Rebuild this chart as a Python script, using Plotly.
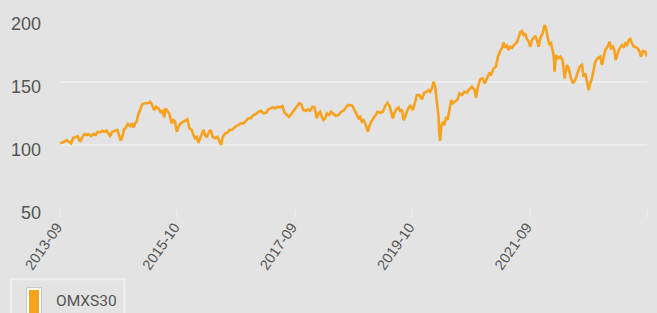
import plotly.graph_objects as go

# session index (trading-day steps) and OMXS30 index level
sessions = [
    0, 10, 20, 27, 33, 40, 47, 53, 60, 65, 73, 80, 85, 93, 100, 107, 113, 120, 127, 133,
    140, 145, 150, 157, 165, 172, 177, 182, 187, 192, 197, 203, 210, 215, 221, 225, 230, 235, 240, 247,
    255, 263, 270, 275, 282, 288, 295, 303, 307, 313,
    315, 322, 328, 335, 340, 345, 350, 355, 362, 370, 378, 382, 388, 395, 400, 405, 410, 415, 420, 425,
    430, 435, 440, 447, 452, 458, 465, 472, 478, 483, 488, 495, 502, 508, 515, 522, 528, 535, 542, 550,
    558, 565, 572, 580, 588, 595, 602, 610, 618, 625, 630,
    637, 645, 653, 660, 667, 673, 680, 687, 695, 703, 710, 717, 723, 730, 737, 743, 750, 757, 763, 767,
    770, 775, 780, 785, 790, 795, 800, 807, 813, 820, 827, 835, 843, 850, 855, 863, 870, 877, 883, 890,
    895, 900, 905, 910, 915, 920, 923, 927, 933, 940, 945,
    952, 960, 968, 975, 982, 988, 992, 998, 1002, 1008, 1015, 1020, 1025, 1030, 1035, 1042, 1050, 1058, 1065, 1070,
    1078, 1085, 1092, 1100, 1105, 1110, 1115, 1120, 1125, 1130, 1135, 1137, 1140, 1143, 1148, 1152, 1158, 1162, 1168, 1173,
    1178, 1185, 1192, 1198, 1205, 1212, 1220,
    1225, 1235, 1243, 1247, 1253, 1260, 1267, 1273, 1280, 1287, 1293, 1300, 1307, 1313, 1320, 1327, 1330, 1335, 1340, 1345,
    1350, 1355, 1363, 1370, 1375, 1380, 1385, 1390, 1395, 1400, 1405, 1410, 1415, 1420, 1425, 1430, 1435, 1440, 1447, 1453,
    1457, 1463, 1467, 1471, 1475, 1480, 1483, 1487, 1493, 1500, 1507, 1513,
    1520, 1525, 1532, 1538, 1545, 1552, 1558, 1565, 1570, 1575, 1580, 1585, 1590, 1595, 1600, 1605, 1612, 1620, 1625, 1630,
    1635, 1642, 1648, 1652, 1658, 1662, 1666, 1672, 1678, 1685, 1690, 1695, 1700, 1705, 1710, 1715, 1720, 1725, 1732, 1738,
    1742, 1748, 1755, 1760,
]
omxs30 = [
    101.3, 102.1, 103.9, 102.6, 101.3, 105.8, 106.1, 107.1, 102.6, 105.3, 108.7, 107.9, 108.7, 107.1, 108.7, 107.9, 110.5, 110.0, 111.3, 110.5,
    111.3, 109.2, 107.1, 110.5, 111.3, 111.9, 107.9, 103.4, 106.5, 112.4, 113.7, 116.6, 115.0, 117.2, 114.0, 117.2, 118.5, 124.6, 127.7, 132.5,
    133.1, 133.1, 134.3, 132.5, 127.7, 130.4, 129.1, 125.6, 127.7, 122.0,
    129.1, 127.2, 124.6, 117.2, 119.8, 118.5, 110.5, 114.5, 117.2, 118.5, 119.8, 120.4, 113.2, 111.9, 107.9, 105.3, 106.5, 101.8, 105.3, 109.2,
    111.9, 107.9, 106.1, 110.5, 111.9, 106.5, 105.3, 106.5, 102.6, 100.0, 106.5, 109.2, 109.7, 111.9, 111.9, 114.0, 115.0, 115.8, 117.2, 117.2,
    119.3, 121.2, 121.2, 123.8, 124.6, 126.4, 127.2, 125.1, 125.6, 128.3, 129.0,
    129.9, 129.1, 130.4, 129.9, 130.9, 125.6, 123.8, 122.4, 125.1, 127.7, 130.9, 133.1, 132.5, 127.7, 127.2, 128.3, 127.2, 130.4, 129.9, 123.8,
    121.2, 125.1, 126.4, 122.4, 119.8, 121.2, 125.1, 123.8, 126.4, 124.6, 123.0, 123.8, 126.4, 127.2, 129.1, 131.7, 131.7, 130.9, 127.7, 123.8,
    121.2, 122.4, 118.5, 119.8, 117.2, 113.2, 110.5, 114.5, 118.5, 121.2, 123.8,
    126.4, 125.6, 126.4, 130.9, 133.5, 130.9, 126.4, 121.2, 125.1, 128.3, 129.9, 126.4, 128.3, 119.8, 122.4, 127.7, 131.7, 127.7, 134.3, 139.7,
    139.7, 136.2, 141.5, 142.3, 143.6, 142.3, 145.0, 150.2, 146.2, 135.7, 122.4, 109.2, 103.4, 114.5, 118.5, 115.8, 122.4, 119.8, 127.7, 135.7,
    133.1, 134.3, 136.2, 141.0, 139.7, 142.3, 141.5,
    143.6, 146.2, 143.6, 137.5, 146.2, 152.4, 152.9, 148.9, 152.9, 156.9, 156.1, 160.9, 162.1, 170.1, 174.6, 178.0, 181.5, 177.2, 178.8, 175.4,
    178.0, 177.2, 179.9, 181.5, 185.2, 189.4, 190.5, 186.7, 188.6, 184.1, 182.0, 178.0, 183.3, 184.7, 186.7, 183.3, 178.0, 184.7, 188.6, 195.2,
    192.6, 184.7, 179.4, 182.0, 178.0, 171.4, 158.2, 171.4, 168.8, 170.1, 167.4, 152.9,
    163.5, 160.9, 152.9, 148.9, 151.6, 158.2, 162.1, 163.5, 154.2, 156.9, 148.9, 143.6, 148.9, 152.9, 159.5, 166.1, 168.8, 170.1, 163.5, 168.8,
    175.4, 178.0, 182.0, 176.7, 178.0, 175.4, 167.4, 172.8, 176.7, 179.4, 178.0, 180.7, 179.4, 183.3, 184.1, 180.7, 178.0, 178.0, 176.7, 174.0,
    170.1, 174.6, 174.0, 170.1,
]

# x-axis tick labels (every fifth of the series; last tick unlabeled)
tick_labels = ["2013-09", "2015-10", "2017-09", "2019-10", "2021-09", ""]
y_ticks = [50, 100, 150, 200]
series_name = "OMXS30"

BG = "#e3e3e3"
GRID = "#ececec"
ORANGE = "#f7a11c"
TEXT = "#555555"

span = sessions[-1] - sessions[0]
tick_vals = [sessions[0] + i * span / (len(tick_labels) - 1) for i in range(len(tick_labels))]

fig = go.Figure()
fig.add_trace(go.Scatter(
    x=sessions, y=omxs30, mode="lines", name=series_name,
    line=dict(color=ORANGE, width=2.6), showlegend=False, hoverinfo="skip",
))

fig.update_layout(
    width=657, height=313,
    paper_bgcolor=BG, plot_bgcolor=BG,
    margin=dict(l=60, r=10, t=19, b=105, autoexpand=False),
    font=dict(family="Liberation Sans, Arial, sans-serif", color=TEXT),
    xaxis=dict(
        range=[sessions[0], sessions[-1]], automargin=False,
        tickmode="array", tickvals=tick_vals, ticktext=tick_labels,
        tickangle=-55, tickfont=dict(size=14.5, color=TEXT),
        showgrid=False, zeroline=False, showline=False,
        ticks="outside", ticklen=8, tickcolor=GRID, tickwidth=1.5,
        ticklabelstandoff=-4, ticklabelshift=-3,
    ),
    yaxis=dict(
        range=[50, 200], tickmode="array", tickvals=y_ticks, automargin=False,
        tickfont=dict(size=18, color=TEXT),
        showgrid=True, gridcolor=GRID, gridwidth=1.5,
        zeroline=False, showline=False, ticks="", ticklabelstandoff=18,
        ticklabelshift=5,
    ),
    showlegend=False,
)

# legend box drawn at the bottom-left
fig.add_shape(type="rect", xref="paper", yref="paper",
              x0=-49 / 587, x1=64.3 / 587, y0=-(313 - 208 + 5) / 189, y1=-(279.3 - 208) / 189,
              line=dict(color="#efefef", width=2), fillcolor=BG, layer="above")
fig.add_shape(type="rect", xref="paper", yref="paper",
              x0=-33.5 / 587, x1=-18.5 / 587, y0=-(313 - 208 + 3) / 189, y1=-(287.5 - 208) / 189,
              line=dict(color="#c8c8c8", width=1), fillcolor="#ffffff", layer="above")
fig.add_shape(type="rect", xref="paper", yref="paper",
              x0=-31 / 587, x1=-21 / 587, y0=-(313 - 208 + 3) / 189, y1=-(290 - 208) / 189,
              line=dict(width=0), fillcolor=ORANGE, layer="above")
fig.add_annotation(xref="paper", yref="paper", x=-6 / 587, y=-(300.5 - 208) / 189,
                   text=series_name, showarrow=False, xanchor="left", yanchor="middle",
                   font=dict(family="Roboto, sans-serif", size=15.5, color=TEXT))

fig.write_html("out.html", config={"displayModeBar": False},
               post_script="document.body.style.margin='0px';document.body.style.background='%s';" % BG)
